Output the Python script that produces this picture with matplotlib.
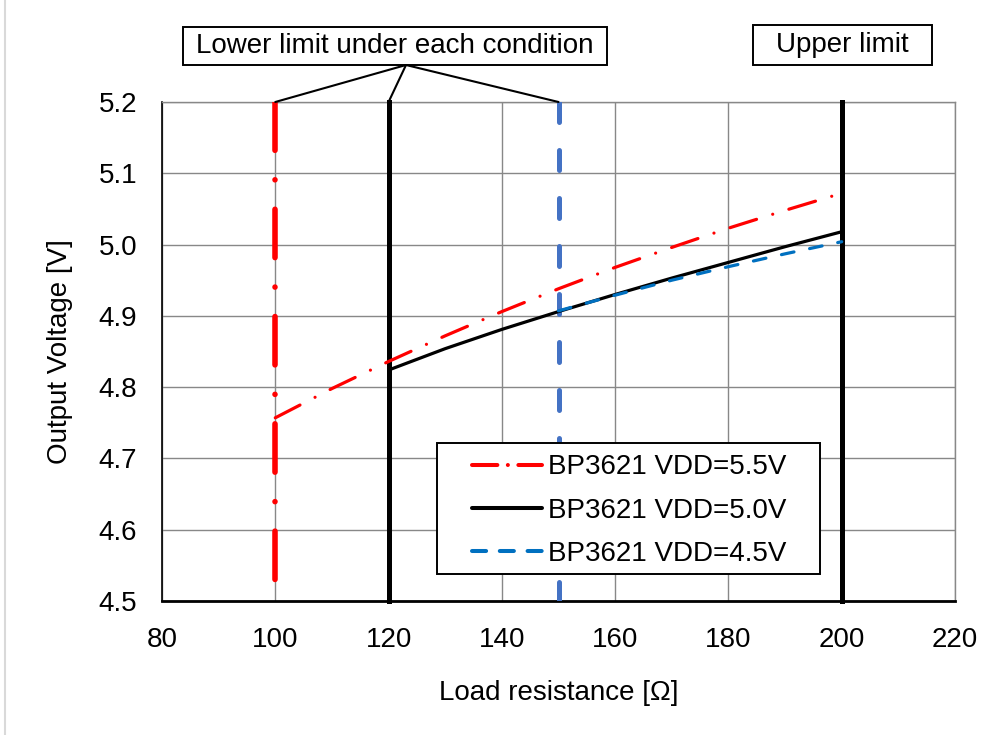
import numpy as np
import matplotlib.pyplot as plt
from matplotlib.patches import Rectangle
from matplotlib.lines import Line2D

plt.rcParams['font.family'] = ['Liberation Sans', 'DejaVu Sans']

# Output voltage curves
r_55 = [100, 110, 120, 130, 140, 150, 160, 170, 180, 190, 200]
v_55 = [4.757, 4.798, 4.836, 4.872, 4.906, 4.938, 4.968, 4.996, 5.023, 5.048, 5.072]
r_50 = [120, 130, 140, 150, 160, 170, 180, 190, 200]
v_50 = [4.824, 4.854, 4.881, 4.906, 4.930, 4.953, 4.975, 4.997, 5.018]
r_45 = [150, 160, 170, 180, 190, 200]
v_45 = [4.907, 4.929, 4.950, 4.969, 4.987, 5.004]
labels = ['BP3621 VDD=5.5V', 'BP3621 VDD=5.0V', 'BP3621 VDD=4.5V']

# Limit markers
lower_limits = [100, 120, 150]
upper_limit = 200
v_span = [5.2, 4.5]

W, H = 985, 735
fig = plt.figure(figsize=(W / 100, H / 100), dpi=100)
ax = fig.add_axes([162 / W, 1 - 601 / H, (955 - 162) / W, (601 - 102) / H])

FS = 20
red, black = '#FF0000', '#000000'
blue_v, blue_c = '#4472C4', '#0070C0'
dashdot = (8.7, 5.3, 0.01, 5.3)

ax.set_xlim(80, 220)
ax.set_ylim(4.5, 5.2)
ax.set_xticks(np.arange(80, 221, 20))
ax.set_yticks(np.arange(4.5, 5.21, 0.1))
ax.set_yticklabels([f'{v:.1f}' for v in np.arange(4.5, 5.21, 0.1)])
ax.grid(True, color='#888888', lw=1.0)
ax.set_axisbelow(True)
ax.tick_params(length=0, labelsize=FS)
ax.tick_params(axis='x', pad=19)
ax.tick_params(axis='y', pad=18)
for s in ['top', 'right']:
    ax.spines[s].set_color('#888888')
    ax.spines[s].set_linewidth(1.0)
ax.spines['left'].set_linewidth(1.2)
ax.spines['bottom'].set_linewidth(2.0)

# limit lines
ax.plot([lower_limits[0]] * 2, v_span, color=red, lw=4.0, dashes=dashdot,
        dash_capstyle='round', zorder=3)
ax.plot([lower_limits[1]] * 2, v_span, color=black, lw=3.6, zorder=3, clip_on=False)
ax.plot([lower_limits[2]] * 2, v_span, color=blue_v, lw=3.6, dashes=(4, 5.6),
        dash_capstyle='round', zorder=3)
ax.plot([upper_limit] * 2, v_span, color=black, lw=3.6, zorder=3, clip_on=False)

# curves
l1, = ax.plot(r_55, v_55, color=red, lw=2.3, dashes=dashdot, dash_capstyle='round', zorder=4)
l2, = ax.plot(r_50, v_50, color=black, lw=2.3, solid_capstyle='round', zorder=4)
l3, = ax.plot(r_45, v_45, color=blue_c, lw=2.3, dashes=(4, 5), dash_capstyle='round', zorder=4)

# legend: own frame so the side padding can be wider than top/bottom
ax.add_patch(Rectangle((0.3468, 0.0541), 0.483, 0.2625, transform=ax.transAxes,
                       facecolor='white', edgecolor='black', lw=1.4, zorder=9))
leg = ax.legend([l1, l2, l3], labels, loc='upper left', bbox_to_anchor=(0.391, 0.294),
                fontsize=FS, frameon=False, handlelength=2.52, handletextpad=0.2,
                labelspacing=0.62, borderpad=0, borderaxespad=0)
leg.set_zorder(10)
hl = leg.get_lines()
for h in hl:
    h.set_linewidth(2.9)
hl[0].set_dashes((6.3, 2.6, 0.01, 2.6))
hl[2].set_dashes((3.5, 3.4))

ax.set_xlabel('Load resistance [Ω]', fontsize=FS, labelpad=19)
ax.set_ylabel('Output Voltage [V]', fontsize=FS, labelpad=18)

# annotation boxes
def px(x, y):
    return x / W, 1 - y / H

for (x0, y0, x1, y1, txt) in [(183, 27, 607, 65, 'Lower limit under each condition'),
                              (753, 25, 932, 65, 'Upper limit')]:
    fx, fy = px(x0, y1)
    fig.patches.append(Rectangle((fx, fy), (x1 - x0) / W, (y1 - y0) / H,
                                 transform=fig.transFigure, fill=False,
                                 edgecolor='black', lw=1.4))
    cx, cy = px((x0 + x1) / 2, (y0 + y1) / 2)
    fig.text(cx, cy, txt, fontsize=FS, ha='center', va='center')

for xl in lower_limits:
    ax.annotate('', xy=(xl, 5.2), xycoords='data', xytext=px(406, 65),
                textcoords='figure fraction', annotation_clip=False,
                arrowprops=dict(arrowstyle='-', lw=1.5, color='black',
                                shrinkA=0, shrinkB=0))

# chart area border
fig.add_artist(Line2D([5 / W, 5 / W], [0, 1], transform=fig.transFigure,
                      color='#D9D9D9', lw=1.5))

fig.savefig('out.png', dpi=100)
